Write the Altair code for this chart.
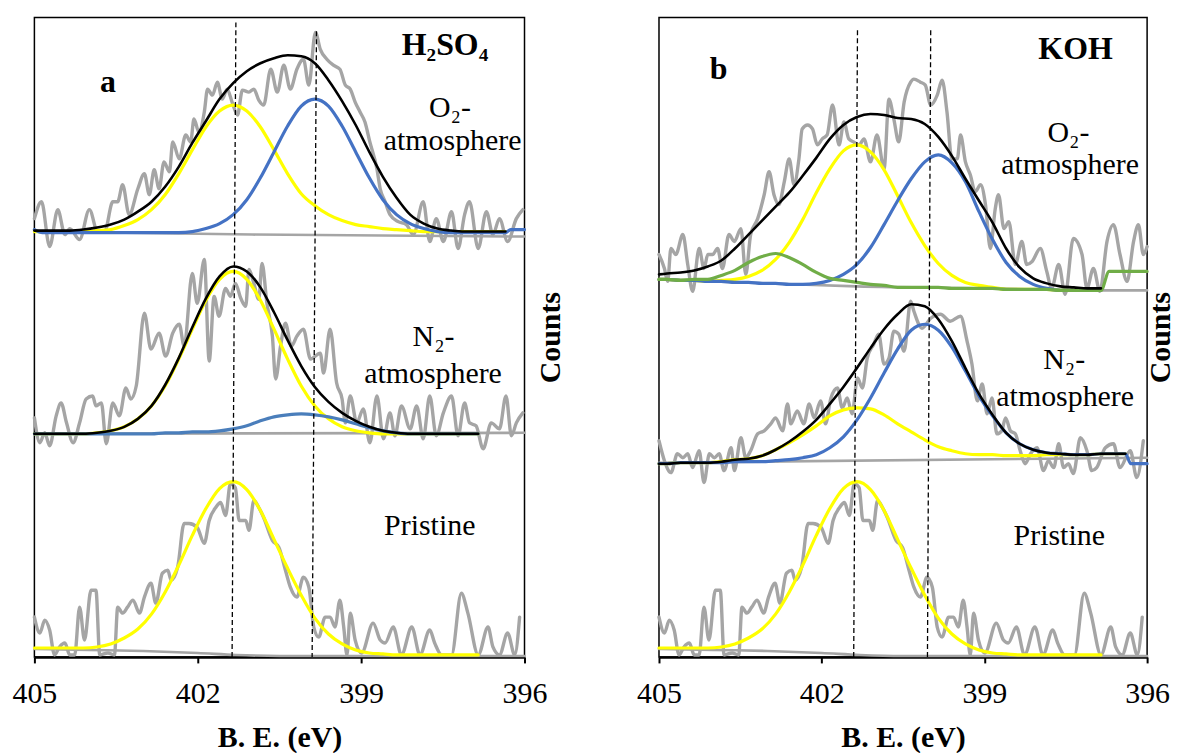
import altair as alt
import pandas as pd

FONT = "Liberation Serif"

# Common energy grid (eV) for the fitted curves
GRID = [405.0, 404.85, 404.6, 404.35, 404.1, 403.85, 403.6, 403.35, 403.1, 402.85,
        402.6, 402.35, 402.1, 401.85, 401.6, 401.35, 401.1, 400.85, 400.6, 400.35,
        400.1, 399.85, 399.6, 399.35, 399.1, 398.85, 398.6, 398.35, 398.1, 397.85,
        397.6, 397.35, 397.1, 396.85]

X_TICKS = [405, 402, 399, 396]

# ---------------- Panel a (H2SO4) ----------------
A_TOP_NOISE = [(405.0,440),(404.87,457),(404.72,412),(404.57,449),(404.44,424),(404.35,430),(404.17,419),(403.99,449),(403.84,427),(403.71,427),(403.56,457),(403.47,457),(403.38,474),(403.26,444),(403.10,470),(402.98,485),(402.89,464),(402.80,489),(402.71,470),(402.62,497),(402.52,487),(402.46,517),(402.34,500),(402.22,524),(402.13,517),(402.07,540),(401.98,527),(401.88,547),(401.82,570),(401.73,564),(401.64,577),(401.55,560),(401.46,570),(401.37,557),(401.27,544),(401.18,569),(401.06,567),(400.97,570),(400.88,559),(400.79,554),(400.66,590),(400.54,567),(400.42,594),(400.30,570),(400.18,590),(400.06,600),(399.96,574),(399.84,627),(399.75,610),(399.63,600),(399.51,594),(399.39,590),(399.29,574),(399.20,570),(399.11,557),(399.02,547),(398.93,537),(398.84,517),(398.71,490),(398.65,470),(398.56,457),(398.47,444),(398.32,437),(398.17,434),(398.04,424),(397.86,457),(397.74,417),(397.62,440),(397.49,417),(397.34,447),(397.22,410),(397.10,444),(397.01,457),(396.85,410),(396.70,447),(396.58,424),(396.46,440),(396.31,417),(396.15,440),(396.03,449)]
A_TOP_BG_EV = [405.0, 401.0, 396.0]
A_TOP_BG = [427, 424, 422]
A_TOP_YELLOW = [427, 427, 427, 427, 427, 428, 429, 433, 439, 449, 464, 485, 509, 532, 548, 554, 548, 532, 509, 485, 465, 453, 444, 438, 434, 432, 430, 429, 428, 427, 427, 427, 427, 427, 427, 427]
A_TOP_BLUE = [429, 426, 426, 426, 426, 426, 426, 426, 426, 426, 426, 426, 427, 430, 435, 444, 459, 481, 507, 533, 553, 560, 553, 533, 507, 481, 459, 444, 435, 430, 427, 426, 426, 426, 426, 426, 429, 429]
A_TOP_BLACK = [428, 428, 428, 428, 429, 431, 434, 439, 447, 457, 472, 492, 516, 538, 560, 576, 588, 596, 601, 604, 603, 596, 579, 558, 534, 507, 482, 461, 444, 435, 430, 428, 427, 427, 427, 427]

A_MID_NOISE = [(405.0,240),(404.90,215),(404.81,225),(404.72,212),(404.60,242),(404.51,255),(404.41,235),(404.29,215),(404.17,235),(404.05,259),(403.93,262),(403.87,252),(403.77,255),(403.68,214),(403.56,255),(403.44,242),(403.32,270),(403.23,259),(403.13,272),(402.98,345),(402.86,309),(402.71,325),(402.59,302),(402.46,325),(402.34,334),(402.25,312),(402.10,385),(402.01,355),(401.88,399),(401.79,297),(401.70,362),(401.61,342),(401.49,370),(401.40,362),(401.31,375),(401.21,360),(401.12,352),(401.06,389),(400.97,375),(400.88,359),(400.82,395),(400.73,355),(400.63,322),(400.57,279),(400.48,312),(400.39,335),(400.28,312),(400.18,322),(400.06,329),(399.93,299),(399.75,305),(399.69,285),(399.57,329),(399.45,275),(399.35,259),(399.29,235),(399.20,262),(399.08,235),(398.96,249),(398.84,215),(398.71,262),(398.59,219),(398.47,245),(398.38,222),(398.26,252),(398.10,229),(397.98,252),(397.86,219),(397.74,262),(397.62,222),(397.49,245),(397.34,262),(397.22,222),(397.10,255),(397.01,235),(396.89,232),(396.76,209),(396.61,235),(396.46,229),(396.34,262),(396.24,222),(396.15,235),(396.03,245)]
A_MID_BG_EV = [405.0, 396.0]
A_MID_BG = [224, 225]
A_MID_YELLOW = [224, 224, 224, 224, 224, 225, 227, 231, 239, 252, 272, 299, 329, 358, 379, 387, 379, 358, 329, 299, 272, 252, 239, 231, 227, 225, 224, 224, 224, 224, 224, 224, 224, 224]
A_MID_BLUE = [224, 224, 224, 224, 224, 224, 224, 224, 224, 224, 225, 225, 226, 226, 227, 229, 232, 237, 241, 243, 244, 243, 241, 238, 234, 230, 227, 225, 224, 224, 224, 224, 224, 224]
A_MID_BLACK = [224, 224, 224, 224, 224, 225, 227, 231, 239, 252, 273, 300, 331, 360, 382, 392, 387, 371, 346, 318, 292, 271, 256, 245, 237, 231, 227, 225, 224, 224, 224, 224, 224, 224]

# Pristine spectrum (same in both panels)
PRISTINE_NOISE = [(405.0,40),(404.90,24),(404.81,37),(404.72,27),(404.63,2),(404.54,10),(404.44,14),(404.35,2),(404.26,2),(404.17,50),(404.08,17),(403.96,67),(403.87,67),(403.80,2),(403.65,4),(403.53,2),(403.47,50),(403.38,44),(403.29,50),(403.19,57),(403.07,44),(402.98,60),(402.86,74),(402.77,54),(402.65,84),(402.55,87),(402.49,77),(402.37,90),(402.25,134),(402.16,134),(402.01,130),(401.88,114),(401.79,137),(401.67,150),(401.58,155),(401.49,142),(401.40,174),(401.31,170),(401.24,137),(401.12,137),(401.06,127),(400.97,157),(400.88,150),(400.79,140),(400.63,117),(400.51,110),(400.39,87),(400.30,70),(400.18,60),(400.06,80),(399.96,70),(399.87,30),(399.78,20),(399.66,40),(399.57,40),(399.48,30),(399.39,57),(399.32,30),(399.26,2),(399.20,44),(399.11,17),(398.99,4),(398.78,34),(398.65,17),(398.56,14),(398.41,30),(398.26,2),(398.07,30),(397.92,2),(397.74,27),(397.65,14),(397.52,2),(397.34,2),(397.16,64),(397.04,44),(396.85,2),(396.67,30),(396.58,10),(396.46,2),(396.31,24),(396.18,2),(396.09,40)]
PRISTINE_BG_EV = [405.0, 404.0, 403.0, 402.0, 401.3, 400.5, 396.0]
PRISTINE_BG = [8, 7, 6, 4, 2, 1, 1]
PRISTINE_YELLOW = [9, 9, 9, 9, 9, 10, 13, 19, 28, 43, 65, 92, 122, 149, 169, 176, 168, 147, 118, 89, 62, 39, 23, 13, 7, 4, 3, 2, 2, 2, 2, 2, 2, 2]

# ---------------- Panel b (KOH) ----------------
B_TOP_NOISE = [(405.0,404),(404.90,390),(404.84,377),(404.78,410),(404.69,404),(404.56,424),(404.47,394),(404.38,367),(404.26,410),(404.17,390),(404.10,404),(404.01,404),(403.92,410),(403.83,390),(403.71,424),(403.61,417),(403.49,430),(403.40,384),(403.31,424),(403.18,440),(403.06,464),(402.97,487),(402.88,464),(402.79,454),(402.69,477),(402.60,500),(402.51,474),(402.42,500),(402.36,530),(402.26,534),(402.17,530),(402.08,514),(401.99,520),(401.90,524),(401.80,554),(401.68,514),(401.59,537),(401.50,520),(401.41,517),(401.31,514),(401.22,520),(401.10,497),(400.98,524),(400.85,490),(400.76,560),(400.67,540),(400.58,517),(400.48,557),(400.36,577),(400.30,580),(400.18,577),(400.09,574),(399.99,554),(399.87,564),(399.78,579),(399.69,547),(399.60,500),(399.50,500),(399.44,524),(399.35,497),(399.26,484),(399.17,467),(399.07,474),(398.98,454),(398.89,410),(398.80,450),(398.74,464),(398.64,430),(398.55,437),(398.43,394),(398.31,417),(398.22,394),(398.12,397),(397.97,410),(397.85,387),(397.76,370),(397.63,394),(397.51,364),(397.36,420),(397.20,404),(397.11,370),(396.99,390),(396.87,367),(396.74,417),(396.62,434),(396.50,404),(396.37,377),(396.25,417),(396.16,434),(396.07,404),(396.0,412)]
B_TOP_BG_EV = [405.0, 403.0, 401.35, 399.0, 396.85, 396.0]
B_TOP_BG = [379, 375, 372, 370, 368, 368]
B_TOP_YELLOW = [379, 379, 378, 378, 377, 378, 379, 382, 388, 399, 416, 439, 466, 490, 508, 514, 507, 489, 463, 436, 413, 395, 383, 376, 373, 371, 369, 369, 369, 369, 368, 368, 368, 368]
B_TOP_BLUE = [379, 379, 378, 378, 377, 377, 376, 376, 375, 375, 374, 374, 375, 378, 384, 394, 411, 434, 458, 480, 497, 504, 496, 477, 447, 419, 396, 382, 374, 370, 368, 368, 368, 368]
B_TOP_GREEN = [379, 379, 378, 379, 379, 383, 388, 396, 402, 405, 401, 394, 386, 380, 378, 376, 374, 373, 371, 371, 371, 371, 370, 370, 370, 370, 369, 369, 369, 369, 368, 368, 368, 368, 387, 387]
B_TOP_BLACK = [384, 385, 386, 388, 392, 398, 410, 424, 438, 452, 466, 483, 501, 520, 534, 542, 545, 544, 541, 540, 535, 522, 503, 480, 458, 436, 410, 391, 380, 375, 372, 371, 370, 370]

B_MID_NOISE = [(405.0,217),(404.90,197),(404.78,185),(404.66,204),(404.56,200),(404.47,204),(404.38,190),(404.26,207),(404.17,175),(404.07,204),(403.98,200),(403.89,204),(403.80,187),(403.67,210),(403.61,187),(403.49,220),(403.40,200),(403.31,207),(403.18,224),(403.06,227),(402.94,234),(402.85,240),(402.72,227),(402.63,254),(402.57,234),(402.45,247),(402.33,234),(402.23,254),(402.14,240),(402.02,257),(401.93,234),(401.83,260),(401.71,270),(401.62,250),(401.53,260),(401.44,244),(401.34,280),(401.25,270),(401.16,300),(401.04,314),(400.95,324),(400.85,294),(400.76,300),(400.67,327),(400.58,324),(400.48,307),(400.36,357),(400.30,347),(400.15,330),(399.99,340),(399.81,344),(399.63,337),(399.44,342),(399.32,317),(399.23,294),(399.13,257),(399.04,274),(398.95,244),(398.86,260),(398.77,224),(398.68,227),(398.61,240),(398.52,227),(398.43,224),(398.34,207),(398.25,194),(398.15,204),(398.03,210),(397.91,187),(397.82,197),(397.72,190),(397.63,214),(397.54,190),(397.45,194),(397.36,184),(397.23,220),(397.11,207),(397.02,187),(396.93,190),(396.77,210),(396.62,214),(396.50,190),(396.31,207),(396.19,180),(396.07,217)]
B_MID_BG_EV = [405.0, 396.0]
B_MID_BG = [195, 200]
B_MID_YELLOW = [194, 194, 195, 195, 195, 196, 198, 199, 202, 208, 215, 223, 232, 242, 248, 250, 249, 243, 234, 226, 218, 211, 207, 204, 203, 203, 202, 202, 202, 203, 203, 203, 203, 204, 204, 204]
B_MID_BLUE = [194, 194, 195, 195, 195, 195, 196, 196, 196, 197, 198, 200, 203, 210, 221, 238, 260, 285, 309, 328, 334, 328, 311, 287, 262, 242, 225, 214, 208, 205, 204, 203, 203, 204, 204, 204, 194, 194]
B_MID_BLACK = [194, 194, 195, 195, 195, 196, 198, 199, 202, 208, 216, 226, 238, 254, 271, 290, 310, 329, 344, 354, 352, 339, 317, 290, 264, 243, 225, 214, 208, 205, 204, 203, 203, 204, 204, 204]

# Dashed reference lines: (ev top, value top, ev bottom, value bottom)
A_DASH = [(401.30, 637, 401.37, 0), (399.82, 628, 399.90, 0)]
B_DASH = [(401.34, 629, 401.41, 0), (399.99, 629, 400.05, 0)]

# Text labels: (text, ev, value)
A_LABELS_BOLD = [("a", 403.65, 567), ("H₂SO₄", 397.46, 604)]
A_LABELS = [("O₂-", 397.37, 542), ("atmosphere", 397.32, 509),
            ("N₂-", 397.67, 312), ("atmosphere", 397.68, 275),
            ("Pristine", 397.74, 122)]
B_LABELS_BOLD = [("b", 403.90, 580), ("KOH", 397.32, 600)]
B_LABELS = [("O₂-", 397.45, 517), ("atmosphere", 397.42, 485),
            ("N₂-", 397.53, 289), ("atmosphere", 397.51, 252),
            ("Pristine", 397.62, 112)]

STYLE = {
    "noise": dict(color="#A5A5A5", strokeWidth=3.4),
    "bg": dict(color="#A5A5A5", strokeWidth=2.6),
    "yellow": dict(color="#FFFF00", strokeWidth=3.2),
    "steel": dict(color="#4A7EBB", strokeWidth=3.2),
    "blue": dict(color="#4472C4", strokeWidth=3.2),
    "green": dict(color="#70AD47", strokeWidth=3.2),
    "black": dict(color="#000000", strokeWidth=2.6),
}
ORDER = ["noise", "bg", "yellow", "steel", "blue", "green", "black"]


def rows(series, kind, evs, vals):
    assert len(evs) == len(vals), series
    return [{"series": series, "kind": kind, "ev": e, "val": v} for e, v in zip(evs, vals)]


def pair_rows(series, kind, pairs):
    return [{"series": series, "kind": kind, "ev": e, "val": v} for e, v in pairs]


def panel(curve_rows, dashes, bold_labels, labels, width, counts_x):
    x_enc = alt.X("ev:Q",
                  scale=alt.Scale(domain=[405, 396], nice=False, zero=False),
                  axis=alt.Axis(values=X_TICKS, format="d", title="B. E. (eV)",
                                labelFont=FONT, labelFontSize=30, labelColor="black",
                                labelFlush=False, labelPadding=16, tickSize=6, tickWidth=2,
                                tickColor="black", domainColor="black", domainWidth=2.5,
                                titleFont=FONT, titleFontSize=30, titleFontWeight="bold",
                                titleColor="black", titleBaseline="alphabetic", titleY=90,
                                grid=False))
    y_enc = alt.Y("val:Q",
                  scale=alt.Scale(domain=[0, 642], nice=False, zero=False),
                  axis=alt.Axis(orient="right", labels=False, ticks=False, domain=False,
                                grid=False, title="Counts", titleFont=FONT, titleFontSize=30,
                                titleFontWeight="bold", titleColor="black", titleAngle=270,
                                titleX=counts_x, titleY=321, titleAlign="center",
                                titleBaseline="middle"))
    df = pd.DataFrame(curve_rows)
    layers = []
    for kind in ORDER:
        sub = df[df["kind"] == kind]
        if sub.empty:
            continue
        layers.append(
            alt.Chart(sub).mark_line(interpolate="monotone", strokeCap="round",
                                     strokeJoin="round", **STYLE[kind])
            .encode(x=x_enc, y=y_enc, detail="series:N")
        )
    ddf = pd.DataFrame(dashes, columns=["ev", "val", "ev2", "val2"])
    layers.append(
        alt.Chart(ddf).mark_rule(color="black", strokeDash=[5, 3], strokeWidth=1.3)
        .encode(x=x_enc, y=y_enc, x2="ev2:Q", y2="val2:Q")
    )
    bdf = pd.DataFrame(bold_labels, columns=["label", "ev", "val"])
    layers.append(
        alt.Chart(bdf).mark_text(font=FONT, fontSize=32, fontWeight="bold", color="black",
                                 align="center", baseline="alphabetic")
        .encode(x=x_enc, y=y_enc, text="label:N")
    )
    ldf = pd.DataFrame(labels, columns=["label", "ev", "val"])
    layers.append(
        alt.Chart(ldf).mark_text(font=FONT, fontSize=30, color="black",
                                 align="center", baseline="alphabetic")
        .encode(x=x_enc, y=y_enc, text="label:N")
    )
    return alt.layer(*layers).properties(width=width, height=642)


a_rows = []
a_rows += pair_rows("a_top_n", "noise", A_TOP_NOISE)
a_rows += pair_rows("a_mid_n", "noise", A_MID_NOISE)
a_rows += pair_rows("a_pri_n", "noise", PRISTINE_NOISE)
a_rows += rows("a_top_bg", "bg", A_TOP_BG_EV, A_TOP_BG)
a_rows += rows("a_mid_bg", "bg", A_MID_BG_EV, A_MID_BG)
a_rows += rows("a_pri_bg", "bg", PRISTINE_BG_EV, PRISTINE_BG)
a_rows += rows("a_top_y", "yellow", GRID + [396.6, 396.35], A_TOP_YELLOW)
a_rows += rows("a_mid_y", "yellow", GRID, A_MID_YELLOW)
a_rows += rows("a_pri_y", "yellow", GRID, PRISTINE_YELLOW)
a_rows += rows("a_mid_b", "steel", GRID, A_MID_BLUE)
a_rows += rows("a_top_b", "blue", GRID + [396.6, 396.35, 396.25, 396.0], A_TOP_BLUE)
a_rows += rows("a_top_k", "black", GRID + [396.6, 396.35], A_TOP_BLACK)
a_rows += rows("a_mid_k", "black", GRID, A_MID_BLACK)

b_rows = []
b_rows += pair_rows("b_top_n", "noise", B_TOP_NOISE)
b_rows += pair_rows("b_mid_n", "noise", B_MID_NOISE)
b_rows += pair_rows("b_pri_n", "noise", PRISTINE_NOISE)
b_rows += rows("b_top_bg", "bg", B_TOP_BG_EV, B_TOP_BG)
b_rows += rows("b_mid_bg", "bg", B_MID_BG_EV, B_MID_BG)
b_rows += rows("b_pri_bg", "bg", PRISTINE_BG_EV, PRISTINE_BG)
b_rows += rows("b_top_y", "yellow", GRID, B_TOP_YELLOW)
b_rows += rows("b_mid_y", "yellow", GRID + [396.6, 396.4], B_MID_YELLOW)
b_rows += rows("b_pri_y", "yellow", GRID, PRISTINE_YELLOW)
b_rows += rows("b_top_b", "blue", GRID, B_TOP_BLUE)
b_rows += rows("b_mid_b", "blue", GRID + [396.6, 396.4, 396.3, 396.0], B_MID_BLUE)
b_rows += rows("b_top_g", "green", GRID + [396.7, 396.0], B_TOP_GREEN)
b_rows += rows("b_top_k", "black", GRID, B_TOP_BLACK)
b_rows += rows("b_mid_k", "black", GRID + [396.6, 396.4], B_MID_BLACK)

pa = panel(a_rows, A_DASH, A_LABELS_BOLD, A_LABELS, 492, 26)
pb = panel(b_rows, B_DASH, B_LABELS_BOLD, B_LABELS, 490, 13)

chart = (
    alt.hconcat(pa, pb, spacing=69)
    .properties(padding={"left": 2.5, "top": 7, "right": 0, "bottom": 0}, background="white")
    .configure_view(stroke="black", strokeWidth=1.5)
)

chart.save("out.html", embed_options={"renderer": "svg", "actions": False})
